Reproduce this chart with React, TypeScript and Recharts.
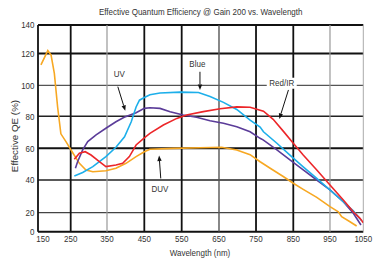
import React from 'react';
import { LineChart, Line, XAxis, YAxis, CartesianGrid, ReferenceLine, ReferenceDot } from 'recharts';

const title = 'Effective Quantum Efficiency @ Gain 200 vs. Wavelength';
const xLabel = 'Wavelength (nm)';
const yLabel = 'Effective QE (%)';

const xTicks = [150, 250, 350, 450, 550, 650, 750, 850, 950, 1050];
const yTicks = [0, 20, 40, 60, 80, 100, 120, 140];

// DUV
const duvWl = [159, 180, 190, 200, 210, 220, 236, 256, 274, 292, 311, 347, 374, 401, 428, 450, 465, 528, 599, 657, 698, 734, 761, 788, 823, 850, 877, 914, 950, 975, 985, 1010, 1030];
const duvQe = [112.8, 122, 119, 107.5, 86, 69, 64, 57, 50.5, 46.3, 45.2, 45.8, 47.4, 50.5, 54.7, 57.8, 59.3, 59.9, 60.3, 60.6, 58.9, 55.9, 51.5, 47.4, 42.2, 38, 34.3, 29.4, 23.7, 20.6, 15.8, 10.5, 6];

// UV
const uvWl = [263, 269, 283, 297, 320, 347, 374, 396, 428, 450, 465, 492, 519, 554, 590, 626, 662, 698, 734, 761, 770, 806, 841, 877, 914, 950, 990, 1020, 1043];
const uvQe = [47.4, 51.5, 58.9, 64.1, 68.3, 72.5, 76.6, 79.4, 82.3, 85.1, 85.5, 85.1, 82.9, 80.8, 79.4, 77.2, 75.6, 73.5, 70.3, 66.2, 65.1, 58.9, 52.6, 46.3, 40, 33.9, 26.7, 19.4, 7];

// Blue
const blueWl = [260, 283, 311, 347, 374, 397, 415, 428, 437, 450, 465, 492, 546, 595, 626, 662, 698, 734, 761, 770, 806, 841, 877, 914, 950, 990, 1020, 1045];
const blueQe = [42.5, 44.7, 48.4, 54.7, 60.6, 67.2, 76.6, 86, 90.4, 92.1, 93.9, 95, 95.6, 95.4, 92.8, 89, 84.4, 77.6, 73.3, 70.3, 63.1, 55.7, 48.3, 41, 33.9, 26.7, 21.2, 11.6];

// Red/IR
const redWl = [260, 274, 290, 306, 329, 347, 374, 392, 410, 428, 450, 465, 501, 537, 563, 608, 653, 698, 734, 770, 796, 823, 850, 877, 914, 950, 990, 1020, 1040, 1050];
const redQe = [53, 56.8, 57.8, 55.7, 51.5, 48.4, 49.4, 50.5, 54.7, 62, 66.5, 69.3, 74.5, 78.7, 80.8, 83, 84.9, 86.1, 85.8, 83.3, 78.1, 70.7, 63.1, 55.7, 46.3, 37, 27.8, 20.6, 14.1, 9.5];

const seriesNames = ['DUV', 'UV', 'Blue', 'Red/IR'];
const seriesColors = ['#F7A823', '#5B3C99', '#1DAFEA', '#EC2629'];

// annotation labels and arrows (data units)
const annLabels = ['UV', 'Blue', 'Red/IR', 'DUV'];
const annLabelWl = [383, 592, 819, 492];
const annLabelQe = [107.5, 113.4, 101.3, 34.9];
const annArrowFrom = [[379, 99.1], [599, 108.5], [837, 97], [494, 41]];
const annArrowTo = [[399, 83.5], [599, 97], [812.5, 78.3], [489.6, 55.4]];
const annBoxed = [false, false, true, false];

// Axis calibration of the original (non-uniform) printed grid: relative position of each tick
const xTickFrac = [0, 0.1005, 0.2121, 0.3268, 0.4417, 0.5564, 0.6702, 0.7848, 0.8976, 1];
const yTickFrac = [0, 0.0919, 0.2501, 0.404, 0.5583, 0.7083, 0.8621, 1];

const hGridStroke = ['#111', '#444', '#222', '#111', '#222', '#555', '#111', '#111'];
const hGridWidth = [2, 1.3, 1.5, 2, 1.5, 1.3, 1.8, 1.8];
const vGridStroke = ['#111', '#111', '#999', '#111', '#111', '#555', '#111', '#111', '#999', '#aaa'];
const vGridWidth = [1.8, 1.8, 1.2, 1.8, 1.8, 1.4, 1.8, 1.8, 1.2, 1];

function makeScale(stops: number[], fracs: number[]): any {
  let dom: number[] = [stops[0], stops[stops.length - 1]];
  let rng: number[] = [0, 1];
  const scale: any = (v: number) => {
    const n = stops.length;
    let i = 0;
    while (i < n - 2 && v > stops[i + 1]) i++;
    const t = (v - stops[i]) / (stops[i + 1] - stops[i]);
    const f = fracs[i] + t * (fracs[i + 1] - fracs[i]);
    const r0 = rng[0];
    const r1 = rng[rng.length - 1];
    return r0 * (1 - f) + r1 * f;
  };
  scale.domain = (d?: number[]) => {
    if (d === undefined) return dom.slice();
    dom = d.slice();
    return scale;
  };
  scale.range = (r?: number[]) => {
    if (r === undefined) return rng.slice();
    rng = r.slice();
    return scale;
  };
  scale.copy = () => makeScale(stops, fracs).domain(dom).range(rng);
  scale.ticks = () => stops.slice();
  scale.tickFormat = () => (v: number) => String(v);
  scale.clamp = () => scale;
  scale.nice = () => scale;
  return scale;
}

const xScale = makeScale(xTicks, xTickFrac);
const yScale = makeScale(yTicks, yTickFrac);

const toData = (wl: number[], qe: number[]) => wl.map((w, i) => ({ wl: w, qe: qe[i] }));
const seriesData = [toData(duvWl, duvQe), toData(uvWl, uvQe), toData(blueWl, blueQe), toData(redWl, redQe)];

const FONT = '"Liberation Sans", Arial, Helvetica, sans-serif';
const FS = 9.3;
const CONDENSE = 0.86;
const TXT = '#333';

const XTick = (props: any) => {
  const { x, y, payload, index } = props;
  const dx = index === 0 ? 5 : 0;
  return (
    <g transform={`translate(${x + dx},${y}) scale(${CONDENSE},1)`}>
      <text x={0} y={0} dy="0.71em" textAnchor="middle" fontSize={FS} fill={TXT} fontFamily={FONT}>
        {payload.value}
      </text>
    </g>
  );
};

const YTick = (props: any) => {
  const { x, y, payload } = props;
  return (
    <g transform={`translate(${x},${y}) scale(${CONDENSE},1)`}>
      <text x={0} y={0} dy="0.355em" textAnchor="end" fontSize={FS} fill={TXT} fontFamily={FONT}>
        {payload.value}
      </text>
    </g>
  );
};

const hLine = (p: any) => {
  const i = p.index;
  return (
    <line
      key={`h-${i}`}
      x1={p.x1}
      y1={p.y1}
      x2={p.x2}
      y2={p.y2}
      stroke={hGridStroke[i] ?? '#111'}
      strokeWidth={hGridWidth[i] ?? 1.5}
    />
  );
};

const vLine = (p: any) => {
  const i = p.index;
  return (
    <line
      key={`v-${i}`}
      x1={p.x1}
      y1={p.y1}
      x2={p.x2}
      y2={p.y2}
      stroke={vGridStroke[i] ?? '#111'}
      strokeWidth={vGridWidth[i] ?? 1.5}
    />
  );
};

const arrowShape = (p: any) => {
  const { x1, y1, x2, y2 } = p;
  const ang = Math.atan2(y2 - y1, x2 - x1);
  const len = 5.5;
  const w = 2.2;
  const bx = x2 - len * Math.cos(ang);
  const by = y2 - len * Math.sin(ang);
  const px = -Math.sin(ang) * w;
  const py = Math.cos(ang) * w;
  return (
    <g>
      <line x1={x1} y1={y1} x2={bx} y2={by} stroke="#111" strokeWidth={1} />
      <polygon points={`${x2},${y2} ${bx + px},${by + py} ${bx - px},${by - py}`} fill="#111" />
    </g>
  );
};

const makeLabelShape = (text: string, boxed: boolean) => (p: any) => {
  const { cx, cy } = p;
  return (
    <g>
      {boxed && <rect x={cx - 15} y={cy - 5.5} width={30} height={11} fill="#fff" />}
      <g transform={`translate(${cx},${cy}) scale(${CONDENSE},1)`}>
        <text x={0} y={0} dy="0.35em" textAnchor="middle" fontSize={FS} fill={TXT} fontFamily={FONT}>
          {text}
        </text>
      </g>
    </g>
  );
};

export default function App() {
  return (
    <div style={{ position: 'relative', width: 374, height: 255, fontFamily: FONT }}>
      <div
        style={{
          position: 'absolute',
          left: 0,
          width: 385.4,
          top: -1.5,
          lineHeight: '11px',
          fontSize: FS,
          textAlign: 'center',
          color: TXT,
          whiteSpace: 'nowrap',
          transform: `scaleX(${CONDENSE})`,
          transformOrigin: '192.7px 0',
        }}
      >
        {title}
      </div>
      <div
        style={{
          position: 'absolute',
          left: 7 - 50,
          top: 128 - 6,
          width: 100,
          lineHeight: '12px',
          fontSize: 9.8,
          textAlign: 'center',
          color: TXT,
          whiteSpace: 'nowrap',
          transform: 'rotate(-90deg)',
          transformOrigin: '50px 6px',
        }}
      >
        {yLabel}
      </div>
      <div
        style={{
          position: 'absolute',
          left: 191.7 - 60,
          width: 120,
          top: 245.5 - 5.5,
          lineHeight: '11px',
          fontSize: FS,
          textAlign: 'center',
          color: TXT,
          whiteSpace: 'nowrap',
          transform: `scaleX(${CONDENSE})`,
          transformOrigin: '60px 0',
        }}
      >
        {xLabel}
      </div>
      <LineChart width={374} height={255} margin={{ top: 17, right: 18.7, left: 0, bottom: 11.3 }}>
        <CartesianGrid horizontal={hLine} vertical={vLine} syncWithTicks />
        <XAxis
          dataKey="wl"
          type="number"
          scale={xScale}
          domain={[150, 1050]}
          ticks={xTicks}
          interval={0}
          allowDataOverflow
          axisLine={false}
          tickLine={false}
          tickSize={0}
          tickMargin={3.6}
          height={20}
          tick={<XTick />}
        />
        <YAxis
          type="number"
          scale={yScale}
          domain={[0, 140]}
          ticks={yTicks}
          interval={0}
          allowDataOverflow
          axisLine={false}
          tickLine={false}
          tickSize={0}
          tickMargin={3.5}
          width={30}
          tick={<YTick />}
        />
        {seriesData.map((d, i) => (
          <Line
            key={seriesNames[i]}
            name={seriesNames[i]}
            data={d}
            dataKey="qe"
            type="linear"
            stroke={seriesColors[i]}
            strokeWidth={1.6}
            dot={false}
            activeDot={false}
            isAnimationActive={false}
          />
        ))}
        {annArrowFrom.map((from, i) => (
          <ReferenceLine
            key={`arrow-${i}`}
            segment={[
              { x: from[0], y: from[1] },
              { x: annArrowTo[i][0], y: annArrowTo[i][1] },
            ]}
            ifOverflow="visible"
            shape={arrowShape}
          />
        ))}
        {annLabels.map((t, i) => (
          <ReferenceDot
            key={`lab-${i}`}
            x={annLabelWl[i]}
            y={annLabelQe[i]}
            r={1}
            ifOverflow="visible"
            shape={makeLabelShape(t, annBoxed[i])}
          />
        ))}
      </LineChart>
    </div>
  );
}
